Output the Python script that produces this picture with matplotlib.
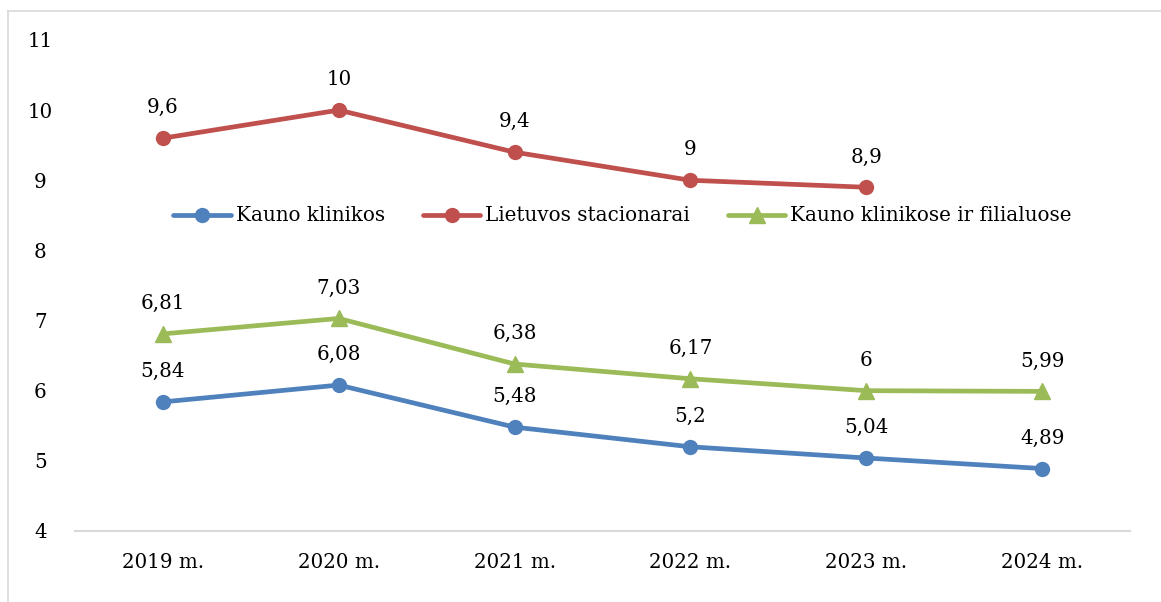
import matplotlib
matplotlib.use("Agg")
import matplotlib.pyplot as plt
from matplotlib.lines import Line2D

years = ["2019 m.", "2020 m.", "2021 m.", "2022 m.", "2023 m.", "2024 m."]
kauno_klinikos = [5.84, 6.08, 5.48, 5.2, 5.04, 4.89]
lietuvos_stacionarai = [9.6, 10, 9.4, 9, 8.9]
kauno_filialuose = [6.81, 7.03, 6.38, 6.17, 6, 5.99]
yticks = [4, 5, 6, 7, 8, 9, 10, 11]

plt.rcParams['font.family'] = ['DejaVu Serif']
FS = 14.3

fig = plt.figure(figsize=(11.61, 6.02), dpi=100)
ax = fig.add_axes([0.0646, 0.118, 0.9087, 0.8156])

def fmt(v):
    s = ("%g" % v).replace(".", ",")
    return s

series = [
    ("Kauno klinikos", kauno_klinikos, "#4F81BD", "o"),
    ("Lietuvos stacionarai", lietuvos_stacionarai, "#C0504D", "o"),
    ("Kauno klinikose ir filialuose", kauno_filialuose, "#9BBB59", "^"),
]
x_all = list(range(len(years)))
for name, vals, col, mk in series:
    xs = x_all[:len(vals)]
    ax.plot(xs, vals, color=col, lw=3.4, marker=mk, markersize=10 if mk == "o" else 11,
            solid_capstyle="round", label=name, zorder=3)
    for x, v in zip(xs, vals):
        ax.annotate(fmt(v), (x, v), xytext=(0, 15), textcoords="offset points",
                    ha="center", va="bottom", fontsize=FS, color="black")

ax.set_xlim(-0.5, 5.5)
ax.set_ylim(4, 11)
ax.set_yticks(yticks)
ax.set_yticklabels([str(t) for t in yticks], fontsize=FS)
ax.set_xticks(x_all)
ax.set_xticklabels(years, fontsize=FS)
for s in ["top", "right", "left"]:
    ax.spines[s].set_visible(False)
ax.spines["bottom"].set_color("#D9D9D9")
ax.spines["bottom"].set_linewidth(1.5)
ax.tick_params(axis="both", length=0)
ax.tick_params(axis="y", pad=25)
ax.tick_params(axis="x", pad=16)
for lab in ax.get_yticklabels():
    lab.set_horizontalalignment("center")

leg = ax.legend(loc="center", bbox_to_anchor=(0.519, 0.6415), ncol=3, frameon=False,
                fontsize=FS, handlelength=2.9, handletextpad=0.25, columnspacing=1.9)

# partial figure border (top and left)
fig.add_artist(Line2D([8/1161, 1], [1-11/602, 1-11/602], transform=fig.transFigure,
                      color="#D9D9D9", lw=1.2))
fig.add_artist(Line2D([8/1161, 8/1161], [0, 1-11/602], transform=fig.transFigure,
                      color="#D9D9D9", lw=1.2))

fig.savefig("out.png", dpi=100)
